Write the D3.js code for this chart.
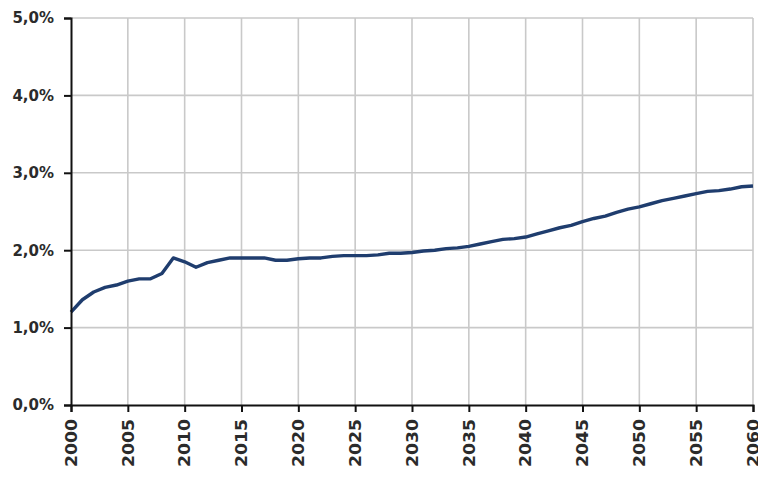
<!DOCTYPE html>
<html>
<head>
<meta charset="utf-8">
<script src="https://cdn.jsdelivr.net/npm/d3@7"></script>
<style>
  html, body { margin: 0; padding: 0; background: #ffffff; }
  svg { display: block; }
  .tick-label { font-family: "DejaVu Sans", Verdana, sans-serif; fill: #2b2b2b; }
</style>
</head>
<body>
<svg id="chart" width="758" height="477"></svg>
<script>
// Annual share (%) 2000–2060
const years = d3.range(2000, 2061);
const shareValues = [
  1.20, 1.36, 1.46, 1.52, 1.55, 1.60, 1.63, 1.63, 1.70, 1.90,
  1.85, 1.78, 1.84, 1.87, 1.90, 1.90, 1.90, 1.90, 1.87, 1.87,
  1.89, 1.90, 1.90, 1.92, 1.93, 1.93, 1.93, 1.94, 1.96, 1.96,
  1.97, 1.99, 2.00, 2.02, 2.03, 2.05, 2.08, 2.11, 2.14, 2.15,
  2.17, 2.21, 2.25, 2.29, 2.32, 2.37, 2.41, 2.44, 2.49, 2.53,
  2.56, 2.60, 2.64, 2.67, 2.70, 2.73, 2.76, 2.77, 2.79, 2.82,
  2.83
];
const yTickValues = [0, 1, 2, 3, 4, 5];
const yTickLabels = ["0,0%", "1,0%", "2,0%", "3,0%", "4,0%", "5,0%"];
const xTickValues = d3.range(2000, 2061, 5);

const svg = d3.select("#chart");
const plotLeft = 71, plotRight = 753, plotTop = 18, plotBottom = 405;

const x = d3.scaleLinear().domain([2000, 2060]).range([plotLeft, plotRight]);
const y = d3.scaleLinear().domain([0, 5]).range([plotBottom, plotTop]);

// grid
const grid = svg.append("g");
grid.selectAll("line.v").data(xTickValues.slice(1)).join("line")
  .attr("x1", d => x(d)).attr("x2", d => x(d))
  .attr("y1", plotTop).attr("y2", plotBottom)
  .attr("stroke", "#c9c9c9").attr("stroke-width", 1.6);
grid.selectAll("line.h").data(yTickValues.slice(1)).join("line")
  .attr("x1", plotLeft).attr("x2", plotRight)
  .attr("y1", d => y(d)).attr("y2", d => y(d))
  .attr("stroke", "#c9c9c9").attr("stroke-width", 1.6);

// series line
const line = d3.line()
  .x((d, i) => x(years[i]))
  .y(d => y(d));
svg.append("path")
  .datum(shareValues)
  .attr("d", line)
  .attr("fill", "none")
  .attr("stroke", "#1f3d6e")
  .attr("stroke-width", 3.4)
  .attr("stroke-linejoin", "round");

// y axis
const yAxis = d3.axisLeft(y)
  .tickValues(yTickValues)
  .tickSize(7)
  .tickPadding(10)
  .tickFormat((d, i) => yTickLabels[i]);
const gy = svg.append("g").attr("transform", `translate(${plotLeft},0)`).call(yAxis);
gy.select(".domain").attr("stroke", "#111").attr("stroke-width", 2);
gy.selectAll(".tick line").attr("stroke", "#111").attr("stroke-width", 2);
gy.selectAll(".tick text")
  .attr("class", "tick-label")
  .style("font-size", "15px")
  .style("font-weight", "bold")
  .attr("fill", "#2b2b2b");

// x axis
const xAxis = d3.axisBottom(x)
  .tickValues(xTickValues)
  .tickSize(7)
  .tickFormat(d3.format("d"));
const gx = svg.append("g").attr("transform", `translate(0,${plotBottom})`).call(xAxis);
gx.select(".domain").attr("stroke", "#111").attr("stroke-width", 2);
gx.selectAll(".tick line").attr("stroke", "#111").attr("stroke-width", 2);
gx.selectAll(".tick text")
  .attr("class", "tick-label")
  .style("font-size", "15px")
  .style("font-weight", "bold")
  .attr("fill", "#2b2b2b")
  .attr("text-anchor", "end")
  .attr("dy", "0.35em")
  .attr("y", 0)
  .attr("transform", "translate(0,14) rotate(-90) scale(1.15,1)");
</script>
</body>
</html>
